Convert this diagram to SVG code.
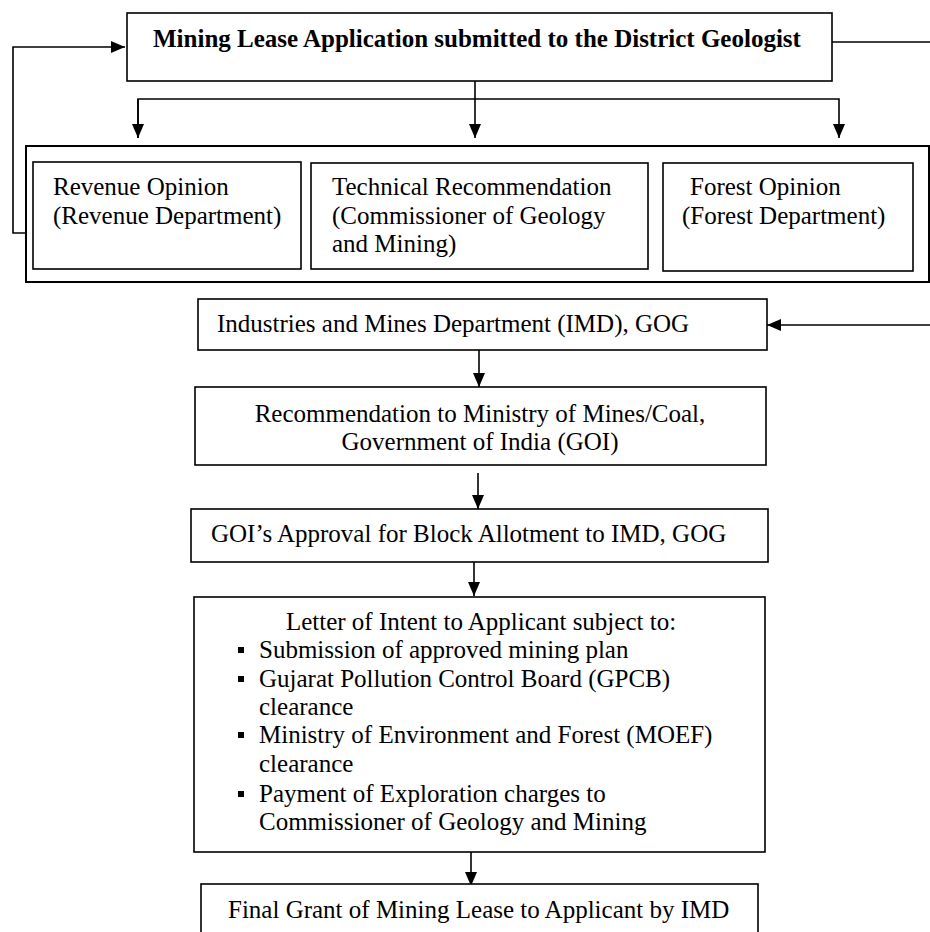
<svg xmlns="http://www.w3.org/2000/svg" width="930" height="932" viewBox="0 0 930 932">
<defs>
<style>
.box{fill:#fff;stroke:#000;stroke-width:1.6}
.outer{fill:none;stroke:#000;stroke-width:2}
.t{font-family:"Liberation Serif","Times New Roman",serif;font-size:25px;fill:#000}
.b{font-weight:bold}
.c{text-anchor:middle}
.ln{fill:none;stroke:#000;stroke-width:1.6}
.ar{marker-end:url(#ah)}
</style>
<marker id="ah" markerUnits="userSpaceOnUse" markerWidth="14" markerHeight="12" refX="14" refY="6" orient="auto">
<path d="M0,0 L14,6 L0,12 Z" fill="#000"/>
</marker>
</defs>
<rect width="930" height="932" fill="#fff"/>

<g id="connectors">
<!-- left feedback loop -->
<polyline class="ln" points="26,233 13,233 13,47 125,47" marker-end="url(#ah)"/>
<!-- right feedback loop -->
<line class="ln" x1="832" y1="42" x2="930" y2="42"/>
<line class="ln ar" x1="930" y1="325" x2="767" y2="325"/>
<!-- distribution -->
<line class="ln ar" x1="475" y1="81" x2="475" y2="138"/>
<polyline class="ln" points="138,138 138,99 839,99 839,138" marker-end="url(#ah)"/>
<line class="ln ar" x1="138" y1="99" x2="138" y2="138"/>
<!-- flow -->
<line class="ln ar" x1="479" y1="349" x2="479" y2="387"/>
<line class="ln ar" x1="478" y1="473" x2="478" y2="509"/>
<line class="ln ar" x1="474" y1="557" x2="474" y2="596"/>
<line class="ln ar" x1="471" y1="842" x2="471" y2="886"/>
</g>

<g id="n-application">
<rect class="box" x="127" y="13" width="705" height="68"/>
<text class="t b" x="153" y="47">Mining Lease Application submitted to the District Geologist</text>
</g>

<g id="n-opinions">
<rect class="outer" x="26" y="146" width="903" height="136"/>
</g>

<g id="n-revenue">
<rect class="box" x="33" y="162" width="268" height="107"/>
<text class="t" x="53" y="195">Revenue Opinion</text>
<text class="t" x="53" y="224">(Revenue Department)</text>
</g>

<g id="n-technical">
<rect class="box" x="311" y="163" width="337" height="106"/>
<text class="t" x="332" y="195">Technical Recommendation</text>
<text class="t" x="332" y="224">(Commissioner of Geology</text>
<text class="t" x="332" y="252">and Mining)</text>
</g>

<g id="n-forest">
<rect class="box" x="663" y="163" width="250" height="108"/>
<text class="t" x="690" y="195">Forest Opinion</text>
<text class="t" x="682" y="224">(Forest Department)</text>
</g>

<g id="n-imd">
<rect class="box" x="198" y="299" width="569" height="51"/>
<text class="t" x="217" y="332">Industries and Mines Department (IMD), GOG</text>
</g>

<g id="n-recommendation">
<rect class="box" x="195" y="387" width="571" height="78"/>
<text class="t c" x="480" y="422">Recommendation to Ministry of Mines/Coal,</text>
<text class="t c" x="480" y="450">Government of India (GOI)</text>
</g>

<g id="n-approval">
<rect class="box" x="191" y="509" width="577" height="53"/>
<text class="t" x="211" y="542">GOI’s Approval for Block Allotment to IMD, GOG</text>
</g>

<g id="n-loi">
<rect class="box" x="194" y="597" width="571" height="255"/>
<text class="t c" x="481" y="630">Letter of Intent to Applicant subject to:</text>
<rect x="238" y="647" width="6" height="6" fill="#000"/>
<text class="t" x="259" y="658">Submission of approved mining plan</text>
<rect x="238" y="676" width="6" height="6" fill="#000"/>
<text class="t" x="259" y="687">Gujarat Pollution Control Board (GPCB)</text>
<text class="t" x="259" y="715">clearance</text>
<rect x="238" y="732" width="6" height="6" fill="#000"/>
<text class="t" x="259" y="743">Ministry of Environment and Forest (MOEF)</text>
<text class="t" x="259" y="772">clearance</text>
<rect x="238" y="791" width="6" height="6" fill="#000"/>
<text class="t" x="259" y="802">Payment of Exploration charges to</text>
<text class="t" x="259" y="830">Commissioner of Geology and Mining</text>
</g>

<g id="n-final">
<rect class="box" x="201" y="884" width="557" height="60"/>
<text class="t" x="228" y="918">Final Grant of Mining Lease to Applicant by IMD</text>
</g>
</svg>
